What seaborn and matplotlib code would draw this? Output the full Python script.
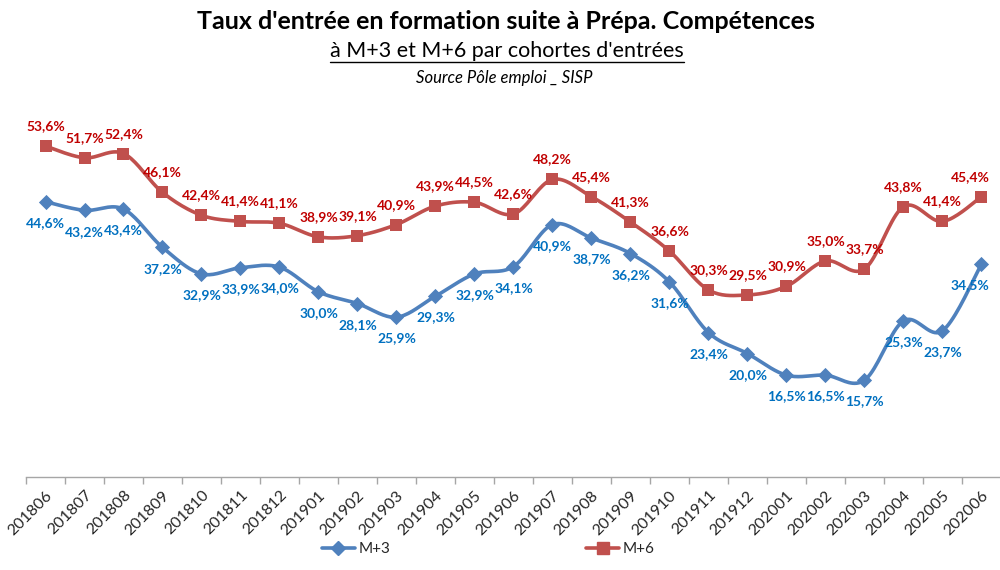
import numpy as np
import pandas as pd
import seaborn as sns
import matplotlib.pyplot as plt
from matplotlib.lines import Line2D

# Data
cohorts = ['201806', '201807', '201808', '201809', '201810', '201811', '201812',
           '201901', '201902', '201903', '201904', '201905', '201906', '201907',
           '201908', '201909', '201910', '201911', '201912', '202001', '202002',
           '202003', '202004', '202005', '202006']
m3 = [44.6, 43.2, 43.4, 37.2, 32.9, 33.9, 34.0, 30.0, 28.1, 25.9, 29.3, 32.9, 34.1,
      40.9, 38.7, 36.2, 31.6, 23.4, 20.0, 16.5, 16.5, 15.7, 25.3, 23.7, 34.5]
m6 = [53.6, 51.7, 52.4, 46.1, 42.4, 41.4, 41.1, 38.9, 39.1, 40.9, 43.9, 44.5, 42.6,
      48.2, 45.4, 41.3, 36.6, 30.3, 29.5, 30.9, 35.0, 33.7, 43.8, 41.4, 45.4]

BLUE, RED = '#4F81BD', '#C0504D'
BLUE_TXT, RED_TXT = '#0070C0', '#C00000'


def smooth(y, n=20):
    # Excel-like smoothed line (Catmull-Rom through each point)
    y = np.asarray(y, dtype=float)
    x = np.arange(len(y), dtype=float)
    xp = np.concatenate([[x[0]], x, [x[-1]]])
    yp = np.concatenate([[y[0]], y, [y[-1]]])
    xs, ys = [], []
    t = np.linspace(0, 1, n, endpoint=False)
    for i in range(1, len(xp) - 2):
        p0, p1, p2, p3 = [np.array([xp[j], yp[j]]) for j in range(i - 1, i + 3)]
        c1 = p1 + (p2 - p0) / 6
        c2 = p2 - (p3 - p1) / 6
        pts = ((1 - t) ** 3)[:, None] * p1 + (3 * (1 - t) ** 2 * t)[:, None] * c1 \
            + (3 * (1 - t) * t ** 2)[:, None] * c2 + (t ** 3)[:, None] * p2
        xs.extend(pts[:, 0]); ys.extend(pts[:, 1])
    xs.append(x[-1]); ys.append(y[-1])
    return np.array(xs), np.array(ys)


sns.set_style('white')
plt.rcParams['font.family'] = ['Lato', 'DejaVu Sans']

fig = plt.figure(figsize=(10, 5.7), dpi=100)
ax = fig.add_axes([0.026, 0.163, 0.975, 0.650])

df = pd.DataFrame({'idx': np.arange(len(cohorts)), 'M+3': m3, 'M+6': m6})

for col, color, marker, ms in [('M+3', BLUE, 'D', 60), ('M+6', RED, 's', 85)]:
    sx, sy = smooth(df[col])
    sns.lineplot(x=sx, y=sy, ax=ax, color=color, lw=2.6, sort=False)
    sns.scatterplot(data=df, x='idx', y=col, ax=ax, color=color, marker=marker,
                    s=ms, linewidth=0, zorder=3)

# data labels
n = len(cohorts)
for i in range(n):
    dx = -8 if i == n - 1 else 0
    ax.annotate(f'{m3[i]:.1f}%'.replace('.', ','), (i, m3[i]), xytext=(dx, -11),
                textcoords='offset points', ha='center', va='top',
                color=BLUE_TXT, fontsize=10, fontweight='bold')
    ax.annotate(f'{m6[i]:.1f}%'.replace('.', ','), (i, m6[i]), xytext=(dx, 10),
                textcoords='offset points', ha='center', va='bottom',
                color=RED_TXT, fontsize=10, fontweight='bold')

ax.set_xlim(-0.5, n - 0.5)
ax.set_ylim(0, 60)
ax.set_yticks([])
ax.set_xlabel('')
ax.set_ylabel('')
ax.set_xticks(np.arange(n))
ax.set_xticklabels(cohorts, rotation=45, ha='right', va='top',
                   rotation_mode='anchor', fontsize=11.5, color='#262626')
ax.set_xticks(np.arange(n + 1) - 0.5, minor=True)
ax.tick_params(axis='x', which='major', length=0, pad=8)
ax.tick_params(axis='x', which='minor', length=5, color='#A6A6A6', width=1,
               direction='out', bottom=True)
for s in ['top', 'left', 'right']:
    ax.spines[s].set_visible(False)
ax.spines['bottom'].set_color('#A6A6A6')
ax.spines['bottom'].set_linewidth(1)

# titles
fig.text(0.506, 0.963, "Taux d'entrée en formation suite à Prépa. Compétences",
         ha='center', va='center', fontsize=18, fontweight='bold', color='black')
sub = fig.text(0.507, 0.911, "à M+3 et M+6 par cohortes d'entrées",
               ha='center', va='center', fontsize=15.5, color='black')
fig.text(0.504, 0.864, 'Source Pôle emploi _ SISP', ha='center', va='center',
         fontsize=12, style='italic', color='black')

# underline the subtitle
fig.canvas.draw()
bb = sub.get_window_extent().transformed(fig.transFigure.inverted())
fig.add_artist(Line2D([bb.x0, bb.x1], [bb.y0 - 0.002, bb.y0 - 0.002],
                      transform=fig.transFigure, color='black', lw=1))

handles = [Line2D([], [], color=BLUE, lw=2.6, marker='D', markersize=7),
           Line2D([], [], color=RED, lw=2.6, marker='s', markersize=8)]
fig.legend(handles, ['M+3', 'M+6'], loc='center', bbox_to_anchor=(0.488, 0.037),
           ncol=2, frameon=False, fontsize=11, handlelength=2.2,
           handletextpad=0.2, columnspacing=12.8)

fig.savefig('out.png', dpi=100)
